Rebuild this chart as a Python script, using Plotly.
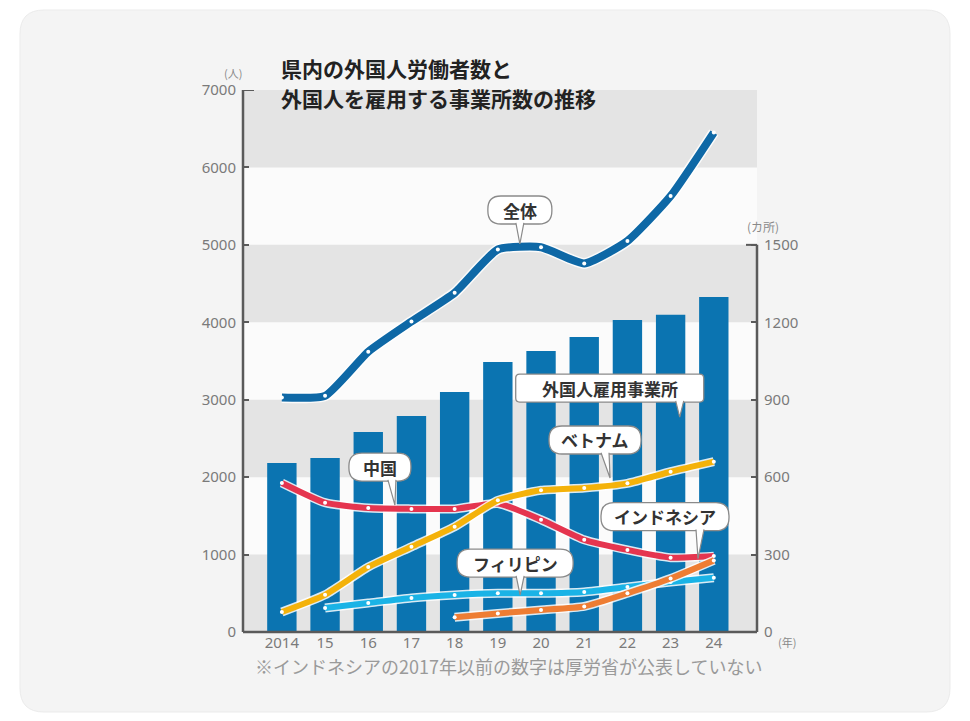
import plotly.graph_objects as go

# ---------------- data ----------------
years = [2014, 2015, 2016, 2017, 2018, 2019, 2020, 2021, 2022, 2023, 2024]
year_labels = ["2014", "15", "16", "17", "18", "19", "20", "21", "22", "23", "24"]

establishments = [655, 674, 775, 837, 930, 1046, 1089, 1143, 1209, 1229, 1298]   # カ所 (right axis)
total = [3030, 3050, 3620, 4010, 4380, 4940, 4970, 4760, 5050, 5630, 6450]      # 人 (left axis)
china = [1925, 1670, 1600, 1590, 1590, 1660, 1450, 1190, 1060, 960, 980]
vietnam = [258, 480, 840, 1100, 1360, 1700, 1830, 1860, 1920, 2070, 2200]
philippines = [None, 310, 375, 440, 478, 500, 500, 517, 580, 646, 700]
indonesia = [None, None, None, None, 190, 240, 285, 330, 500, 690, 925]

left_ticks = [0, 1000, 2000, 3000, 4000, 5000, 6000, 7000]
right_ticks = [0, 300, 600, 900, 1200, 1500]

# ---------------- layout geometry (window pixels) ----------------
OFF = 8                                  # page body margin
FW, FH = 970 - 2 * OFF, 721 - 2 * OFF    # figure size that fits the window
L, R, T, B = 243, 757, 90, 632           # plot area in window pixels


def px(x):
    return (x - L) / (R - L)


def py(y):
    return (B - y) / (B - T)


BAR_BLUE = "#0b74b1"
LINE_BLUE = "#0e68a6"
RED = "#e5354f"
YELLOW = "#f4b20a"
LIGHTBLUE = "#1ab3e6"
ORANGE = "#ee7d33"
AXIS = "#5a5a5a"
TICKFONT = dict(family="Noto Sans, DejaVu Sans", size=15, color="#7a7a7a")
JP = "Noto Sans CJK JP"
SMOOTH = 0.5

fig = go.Figure()

# bars on the primary (right-side) axis so lines on y2 draw above them
fig.add_trace(go.Bar(
    x=years, y=establishments, marker=dict(color=BAR_BLUE, line=dict(width=0)),
    width=0.68, yaxis="y", name="外国人雇用事業所", hoverinfo="x+y"))


def add_line(vals, color, name, width=6):
    fig.add_trace(go.Scatter(
        x=years, y=vals, yaxis="y2", mode="lines",
        line=dict(color="rgba(255,255,255,0.85)", width=width + 3, shape="spline", smoothing=SMOOTH),
        hoverinfo="skip", showlegend=False))
    fig.add_trace(go.Scatter(
        x=years, y=vals, yaxis="y2", mode="lines+markers", name=name,
        line=dict(color=color, width=width, shape="spline", smoothing=SMOOTH),
        marker=dict(color="white", size=4, line=dict(width=0)),
        showlegend=False))


add_line(total, LINE_BLUE, "全体", width=8)
add_line(china, RED, "中国")
add_line(philippines, LIGHTBLUE, "フィリピン")
add_line(indonesia, ORANGE, "インドネシア")
add_line(vietnam, YELLOW, "ベトナム")

shapes = []
# card background
cx0, cx1, cy0, cy1 = px(20), px(950), py(712), py(10)
rx, ry = 24 / (R - L), 24 / (B - T)
card = (f"M {cx0+rx},{cy0} L {cx1-rx},{cy0} Q {cx1},{cy0} {cx1},{cy0+ry} "
        f"L {cx1},{cy1-ry} Q {cx1},{cy1} {cx1-rx},{cy1} L {cx0+rx},{cy1} "
        f"Q {cx0},{cy1} {cx0},{cy1-ry} L {cx0},{cy0+ry} Q {cx0},{cy0} {cx0+rx},{cy0} Z")
shapes.append(dict(type="path", path=card, xref="paper", yref="paper",
                   fillcolor="#f4f4f4", line=dict(color="#ebebeb", width=1), layer="below"))
# plot area background
shapes.append(dict(type="rect", xref="paper", yref="paper", x0=0, x1=1, y0=0, y1=1,
                   fillcolor="#fbfbfb", line=dict(width=0), layer="below"))
# alternating gray bands
for lo, hi in [(6000, 7000), (4000, 5000), (2000, 3000), (0, 1000)]:
    shapes.append(dict(type="rect", xref="paper", yref="y2", x0=0, x1=1, y0=lo, y1=hi,
                       fillcolor="#e4e4e4", line=dict(width=0), layer="below"))

# axis lines
shapes.append(dict(type="line", xref="paper", yref="y2", x0=0, x1=0, y0=0, y1=7000,
                   line=dict(color=AXIS, width=2.5)))
shapes.append(dict(type="line", xref="paper", yref="y2", x0=0, x1=px(L + 11), y0=7000, y1=7000,
                   line=dict(color=AXIS, width=2)))
shapes.append(dict(type="line", xref="paper", yref="y", x0=1, x1=1, y0=0, y1=1500,
                   line=dict(color=AXIS, width=2.5)))
shapes.append(dict(type="line", xref="paper", yref="y", x0=1, x1=px(R - 11), y0=1500, y1=1500,
                   line=dict(color=AXIS, width=2)))
shapes.append(dict(type="line", xref="paper", yref="paper", x0=0, x1=1, y0=0, y1=0,
                   line=dict(color=AXIS, width=2.5)))

annotations = []

# callout labels: (text, x year, y value on left axis, half width, tail base dx, tail tip dx, tail length, rounded)
callouts = [
    ("全体", 2019.51, 5450, 32, 0, 0, 20, True),
    ("外国人雇用事業所", 2021.59, 3150, 94, 70, 70, 15, False),
    ("ベトナム", 2021.25, 2480, 46, 10, 15, 24, True),
    ("中国", 2016.27, 2130, 31, 12, 15, 24, True),
    ("インドネシア", 2022.87, 1490, 64, 35, 33, 28, True),
    ("フィリピン", 2019.4, 890, 58, 5, 5, 18, True),
]
hh = 14
for text, xx, yy, hw, bx, tx, tl, rounded in callouts:
    r = 13 if rounded else 4
    path = (f"M {-hw+r},{-hh} L {hw-r},{-hh} Q {hw},{-hh} {hw},{-hh+r} L {hw},{hh-r} "
            f"Q {hw},{hh} {hw-r},{hh} L {-hw+r},{hh} Q {-hw},{hh} {-hw},{hh-r} "
            f"L {-hw},{-hh+r} Q {-hw},{-hh} {-hw+r},{-hh} Z")
    shapes.append(dict(type="path", path=path, xref="x", yref="y2", xsizemode="pixel",
                       ysizemode="pixel", xanchor=xx, yanchor=yy, fillcolor="white",
                       line=dict(color="#8a8a8a", width=1.3), layer="above"))
    tail = f"M {bx-4},{-hh+1.2} L {tx},{-hh-tl} L {bx+4},{-hh+1.2}"
    shapes.append(dict(type="path", path=tail, xref="x", yref="y2", xsizemode="pixel",
                       ysizemode="pixel", xanchor=xx, yanchor=yy, fillcolor="white",
                       line=dict(color="#8a8a8a", width=1.2), layer="above"))
    annotations.append(dict(x=xx, y=yy, xref="x", yref="y2", text=text, showarrow=False,
                            font=dict(family=JP, size=17, color="#333333", weight="bold"),
                            xanchor="center", yanchor="middle"))

# title (two lines)
title_lines = [("県内の外国人労働者数と", 68), ("外国人を雇用する事業所数の推移", 98)]
for line, ypix in title_lines:
    annotations.append(dict(x=px(279), y=py(ypix), xref="paper", yref="paper", xanchor="left",
                            yanchor="middle", align="left", showarrow=False, text=line,
                            font=dict(family=JP, size=21, color="#222222", weight="bold")))
# units
annotations.append(dict(x=px(222), y=py(63), xref="paper", yref="paper", showarrow=False,
                        text="(人)", font=dict(family=JP, size=11, color="#8a8a8a")))
annotations.append(dict(x=px(781), y=py(216), xref="paper", yref="paper", showarrow=False,
                        text="(カ所)", font=dict(family=JP, size=12, color="#8a8a8a")))
annotations.append(dict(x=px(798), y=py(652), xref="paper", yref="paper", showarrow=False,
                        text="(年)", font=dict(family=JP, size=11, color="#8a8a8a")))
# footnote
annotations.append(dict(x=px(508), y=py(681), xref="paper", yref="paper", showarrow=False,
                        text="※インドネシアの2017年以前の数字は厚労省が公表していない",
                        font=dict(family=JP, size=18, color="#9a9a9a")))

fig.update_layout(
    width=FW, height=FH, autosize=False,
    margin=dict(l=L - OFF, r=FW - (R - OFF), t=T - OFF, b=FH - (B - OFF), pad=0),
    paper_bgcolor="white", plot_bgcolor="rgba(0,0,0,0)",
    showlegend=False, bargap=0.32,
    xaxis=dict(range=[2013.1, 2025.0], tickmode="array", tickvals=years, ticktext=year_labels,
               showgrid=False, zeroline=False, showline=False, ticks="",
               tickfont=TICKFONT, ticklabelstandoff=0, fixedrange=True),
    yaxis=dict(side="right", range=[0, 2100], tickmode="array", tickvals=right_ticks,
               showgrid=False, zeroline=False, showline=False, ticks="inside", ticklen=6,
               tickcolor=AXIS, tickwidth=1.5, tickfont=TICKFONT, ticklabelstandoff=6),
    yaxis2=dict(side="left", overlaying="y", range=[0, 7000], tickmode="array",
                tickvals=left_ticks, showgrid=False, zeroline=False, showline=False,
                ticks="inside", ticklen=6, tickcolor=AXIS, tickwidth=1.5, tickfont=TICKFONT,
                ticklabelstandoff=6),
    shapes=shapes, annotations=annotations,
)

fig.write_html("out.html")
